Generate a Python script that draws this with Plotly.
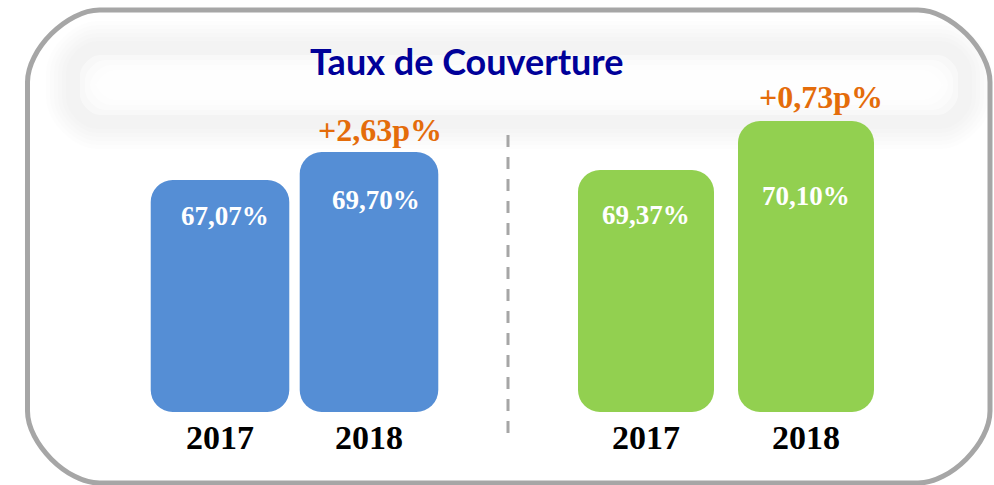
import plotly.graph_objects as go

# data
years = ["2017", "2018"]
group_a = [67.07, 69.70]
group_b = [69.37, 70.10]
labels_a = ["67,07%", "69,70%"]
labels_b = ["69,37%", "70,10%"]
delta_a = "+2,63p%"
delta_b = "+0,73p%"

W, H = 994, 485
BLUE = "#558ED5"
GREEN = "#92D050"
ORANGE = "#E46C0A"
GREY = "#A6A6A6"

# truncated axis starts, so the bars keep the look of the original
BASE_A = 45.28
BASE_B = 65.765

pos = list(range(len(years)))


def px(x):
    return x / W


def py(y):
    return 1 - y / H


def rounded_rect(x0, y0, x1, y1, r):
    # path in paper coords from pixel box
    k = 0.45 * r
    pts = [
        f"M {px(x0 + r)},{py(y0)}",
        f"L {px(x1 - r)},{py(y0)}",
        f"C {px(x1 - r + k)},{py(y0)} {px(x1)},{py(y0 + r - k)} {px(x1)},{py(y0 + r)}",
        f"L {px(x1)},{py(y1 - r)}",
        f"C {px(x1)},{py(y1 - r + k)} {px(x1 - r + k)},{py(y1)} {px(x1 - r)},{py(y1)}",
        f"L {px(x0 + r)},{py(y1)}",
        f"C {px(x0 + r - k)},{py(y1)} {px(x0)},{py(y1 - r + k)} {px(x0)},{py(y1 - r)}",
        f"L {px(x0)},{py(y0 + r)}",
        f"C {px(x0)},{py(y0 + r - k)} {px(x0 + r - k)},{py(y0)} {px(x0 + r)},{py(y0)}",
        "Z",
    ]
    return " ".join(pts)


fig = go.Figure()

fig.add_trace(
    go.Bar(
        x=pos,
        y=[v - BASE_A for v in group_a],
        base=BASE_A,
        width=0.93,
        marker=dict(color=BLUE, cornerradius=22, line_width=0),
        xaxis="x",
        yaxis="y",
        hoverinfo="skip",
    )
)
fig.add_trace(
    go.Bar(
        x=pos,
        y=[v - BASE_B for v in group_b],
        base=BASE_B,
        width=0.85,
        marker=dict(color=GREEN, cornerradius=22, line_width=0),
        xaxis="x2",
        yaxis="y2",
        hoverinfo="skip",
    )
)

tick_font = dict(family="Liberation Serif", size=34, color="black", weight="bold")
dom_y = [py(412), py(60)]
xcommon = dict(range=[-0.5, 1.5], tickvals=pos, ticktext=years, tickfont=tick_font,
               showgrid=False, showline=False, zeroline=False, ticks="",
               ticklabelstandoff=2, automargin=False)

fig.update_layout(
    width=W,
    height=H,
    margin=dict(l=0, r=0, t=0, b=0),
    paper_bgcolor="white",
    plot_bgcolor="rgba(0,0,0,0)",
    showlegend=False,
    xaxis=dict(domain=[px(145.5), px(443.5)], **xcommon),
    yaxis=dict(domain=dom_y, range=[BASE_A, 78.34], visible=False, automargin=False),
    xaxis2=dict(domain=[px(566), px(886)], anchor="y2", **xcommon),
    yaxis2=dict(domain=dom_y, range=[BASE_B, 71.009], visible=False, anchor="x2",
                automargin=False),
)

# soft glow box behind the title
for i in range(6):
    g = 24 - i * 4
    fig.add_shape(type="path", path=rounded_rect(70 - g, 45 - g, 968 + g, 125 + g, 26 + g),
                  xref="paper", yref="paper", fillcolor="rgba(0,0,0,0.007)",
                  line_width=0, layer="below")
for i in range(4):
    g = i * 5
    fig.add_shape(type="path", path=rounded_rect(80 + g, 55 + g, 958 - g, 115 - g, 20),
                  xref="paper", yref="paper", fillcolor="rgba(255,255,255,0.45)",
                  line_width=0, layer="below")

# outer frame
fig.add_shape(type="path", path=rounded_rect(27.5, 10, 990, 483, 72),
              xref="paper", yref="paper", line=dict(color=GREY, width=5),
              fillcolor="rgba(0,0,0,0)", layer="above")

# dashed divider
fig.add_shape(type="line", x0=px(508), x1=px(508), y0=py(135), y1=py(438),
              xref="paper", yref="paper", line=dict(color=GREY, width=3, dash="12px,10px"))

fig.add_annotation(text="Taux de Couverture", x=px(466), y=py(61), xref="paper", yref="paper",
                   xanchor="center", yanchor="middle", showarrow=False,
                   font=dict(family="Lato", size=36, color="#000099", weight="bold"))

val_font = dict(family="Liberation Serif", size=27, color="white", weight="bold")
shifts_a = [-36, -48]
shifts_b = [-45, -75]
for p, v, t, s, dx in zip(pos, group_a, labels_a, shifts_a, [5, 7]):
    fig.add_annotation(text=t, x=p, y=v, xref="x", yref="y", showarrow=False,
                       yshift=s, xshift=dx, font=val_font)
for p, v, t, s in zip(pos, group_b, labels_b, shifts_b):
    fig.add_annotation(text=t, x=p, y=v, xref="x2", yref="y2", showarrow=False,
                       yshift=s, font=val_font)

delta_font = dict(family="Liberation Serif", size=32, color=ORANGE, weight="bold")
fig.add_annotation(text=delta_a, x=pos[1], y=group_a[1], xref="x", yref="y",
                   showarrow=False, yshift=22, xshift=11, font=delta_font)
fig.add_annotation(text=delta_b, x=pos[1], y=group_b[1], xref="x2", yref="y2",
                   showarrow=False, yshift=24, xshift=15, font=delta_font)

fig.write_html("out.html", config={"displayModeBar": False},
               post_script="document.body.style.margin='0';")
